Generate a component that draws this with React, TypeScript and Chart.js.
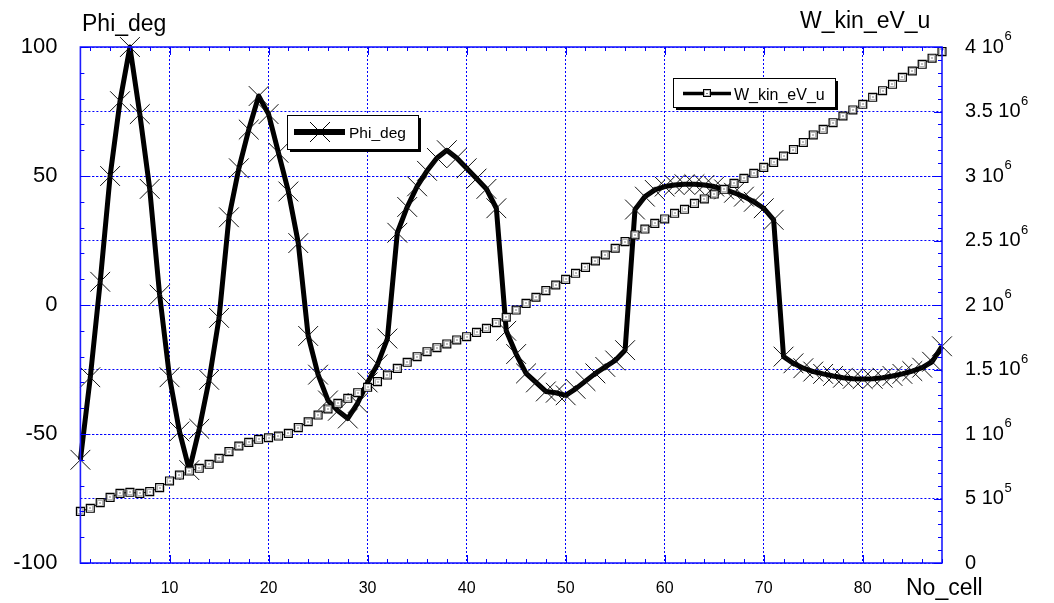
import React, { useEffect, useRef } from "react";
import { Chart, registerables } from "chart.js";

Chart.register(...registerables);

// ---------- data ----------
const NO_CELL = [
  1, 2, 3, 4, 5, 6, 7, 8, 9, 10, 11, 12, 13, 14, 15, 16, 17, 18, 19, 20,
  21, 22, 23, 24, 25, 26, 27, 28, 29, 30, 31, 32, 33, 34, 35, 36, 37, 38, 39, 40,
  41, 42, 43, 44, 45, 46, 47, 48, 49, 50, 51, 52, 53, 54, 55, 56, 57, 58, 59, 60,
  61, 62, 63, 64, 65, 66, 67, 68, 69, 70, 71, 72, 73, 74, 75, 76, 77, 78, 79, 80,
  81, 82, 83, 84, 85, 86, 87, 88,
];

const PHI_DEG = [
  -60, -28, 9, 50, 79, 100, 74, 45, 4, -28,
  -49, -64, -48, -29, -5, 34, 53, 68, 81, 74,
  59, 44, 24, -12, -27, -37, -41, -44, -38, -30,
  -23, -13, 28, 38, 46, 52, 57, 60, 57, 53,
  49, 45, 37.5, -10, -19, -26.5, -30, -33.5, -34, -35,
  -32.5, -29.5, -26.5, -24, -21.5, -17.5, 37, 42, 44.6, 45.9,
  46.5, 46.8, 46.8, 46.5, 45.9, 44.8, 43.5, 42, 40, 37.5,
  33, -20, -22.6, -24.5, -25.8, -26.7, -27.5, -28.2, -28.6, -28.7,
  -28.6, -28.2, -27.5, -26.7, -25.6, -24.3, -22, -16,
];

const W_KIN_EV_U = [
  0.400e6, 0.424e6, 0.468e6, 0.509e6, 0.540e6, 0.548e6, 0.540e6, 0.553e6, 0.584e6, 0.636e6,
  0.682e6, 0.713e6, 0.734e6, 0.765e6, 0.812e6, 0.863e6, 0.907e6, 0.935e6, 0.959e6, 0.971e6,
  0.984e6, 1.005e6, 1.049e6, 1.095e6, 1.147e6, 1.194e6, 1.238e6, 1.277e6, 1.320e6, 1.362e6,
  1.406e6, 1.457e6, 1.509e6, 1.556e6, 1.599e6, 1.638e6, 1.669e6, 1.698e6, 1.729e6, 1.754e6,
  1.788e6, 1.819e6, 1.863e6, 1.905e6, 1.961e6, 2.013e6, 2.060e6, 2.111e6, 2.155e6, 2.199e6,
  2.246e6, 2.292e6, 2.341e6, 2.388e6, 2.440e6, 2.491e6, 2.543e6, 2.589e6, 2.633e6, 2.667e6,
  2.711e6, 2.742e6, 2.788e6, 2.822e6, 2.860e6, 2.897e6, 2.943e6, 2.982e6, 3.021e6, 3.067e6,
  3.106e6, 3.155e6, 3.205e6, 3.260e6, 3.318e6, 3.362e6, 3.413e6, 3.465e6, 3.512e6, 3.556e6,
  3.610e6, 3.661e6, 3.711e6, 3.765e6, 3.814e6, 3.866e6, 3.913e6, 3.964e6,
];

const X_TICKS = [10, 20, 30, 40, 50, 60, 70, 80];
const PHI_TICKS = [-100, -50, 0, 50, 100];
const W_TICKS = [0, 0.5e6, 1e6, 1.5e6, 2e6, 2.5e6, 3e6, 3.5e6, 4e6];

const X_MIN = 1;
const X_MAX = 88;
const PHI_MIN = -100;
const PHI_MAX = 100;
const W_MIN = 0;
const W_MAX = 4e6;

// minor tick spacing on each axis
const X_MINOR = 2;
const PHI_MINOR = 10;
const W_MINOR = 1e5;

const FONT = "'Liberation Sans', Arial, sans-serif";
const BLUE = "#0000ff";

function sciLabel(v: number): [string, string] {
  if (v === 0) return ["0", ""];
  const e = Math.floor(Math.log10(v) + 1e-9);
  const m = +(v / Math.pow(10, e)).toFixed(2);
  return [`${m} 10`, String(e)];
}

function drawBox(ctx: CanvasRenderingContext2D, x: number, y: number, w: number, h: number) {
  ctx.fillStyle = "#000";
  ctx.fillRect(x + 3, y + 3, w, h);
  ctx.fillStyle = "#fff";
  ctx.fillRect(x, y, w, h);
  ctx.strokeStyle = "#000";
  ctx.lineWidth = 1;
  ctx.strokeRect(x + 0.5, y + 0.5, w, h);
}

function drawCross(ctx: CanvasRenderingContext2D, x: number, y: number, h: number) {
  ctx.beginPath();
  ctx.moveTo(x - h, y - h);
  ctx.lineTo(x + h, y + h);
  ctx.moveTo(x + h, y - h);
  ctx.lineTo(x - h, y + h);
  ctx.stroke();
}

const pointDetail = {
  id: "pointDetail",
  afterDatasetsDraw(chart: any) {
    const ctx = chart.ctx as CanvasRenderingContext2D;
    const meta = chart.getDatasetMeta(1);
    ctx.save();
    for (const el of meta.data) {
      const cx = Math.round(el.x);
      const cy = Math.round(el.y);
      ctx.strokeStyle = "#b8b8b8";
      ctx.lineWidth = 1;
      ctx.strokeRect(cx - 2.5, cy - 2.5, 5, 5);
      ctx.fillStyle = "#000";
      ctx.fillRect(cx - 0.5, cy - 0.5, 1, 1);
    }
    ctx.restore();
  },
};

const decor = {
  id: "decor",
  afterDraw(chart: any) {
    const ctx = chart.ctx as CanvasRenderingContext2D;
    const { left, right, top, bottom } = chart.chartArea;
    const xs = chart.scales.x;
    const yl = chart.scales.y;
    const yr = chart.scales.y1;
    ctx.save();

    // frame
    ctx.strokeStyle = "#1c1cff";
    ctx.lineWidth = 1.6;
    ctx.strokeRect(left, top, right - left, bottom - top);

    // inward tick marks
    ctx.strokeStyle = BLUE;
    ctx.lineWidth = 1;
    ctx.beginPath();
    for (let v = X_MINOR; v <= X_MAX; v += X_MINOR) {
      const px = Math.round(xs.getPixelForValue(v)) + 0.5;
      const len = v % 10 === 0 ? 8 : 4;
      ctx.moveTo(px, bottom);
      ctx.lineTo(px, bottom - len);
      ctx.moveTo(px, top);
      ctx.lineTo(px, top + len);
    }
    for (let v = PHI_MIN; v <= PHI_MAX; v += PHI_MINOR) {
      const py = Math.round(yl.getPixelForValue(v)) + 0.5;
      const len = v % 50 === 0 ? 8 : 4;
      ctx.moveTo(left, py);
      ctx.lineTo(left + len, py);
    }
    for (let v = W_MIN; v <= W_MAX + 1; v += W_MINOR) {
      const py = Math.round(yr.getPixelForValue(v)) + 0.5;
      const len = Math.round(v / W_MINOR) % 5 === 0 ? 8 : 4;
      ctx.moveTo(right, py);
      ctx.lineTo(right - len, py);
    }
    ctx.stroke();

    // right axis labels with superscript exponent
    ctx.fillStyle = "#000";
    ctx.textAlign = "left";
    ctx.textBaseline = "middle";
    for (const v of W_TICKS) {
      const py = yr.getPixelForValue(v);
      const px = right + 23;
      const [main, exp] = sciLabel(v);
      ctx.font = `20px ${FONT}`;
      ctx.fillText(main, px, py);
      if (exp) {
        const w = ctx.measureText(main).width;
        ctx.font = `13px ${FONT}`;
        ctx.fillText(exp, px + w + 0.5, py - 10.5);
      }
    }

    // axis titles
    ctx.textBaseline = "alphabetic";
    ctx.font = `23px ${FONT}`;
    ctx.fillText("Phi_deg", 82, 31);
    ctx.fillText("W_kin_eV_u", 800, 28);
    ctx.fillText("No_cell", 906, 595);

    // legend: Phi_deg
    drawBox(ctx, 287, 115, 131, 34);
    ctx.strokeStyle = "#000";
    ctx.lineWidth = 6;
    ctx.beginPath();
    ctx.moveTo(294, 132);
    ctx.lineTo(345, 132);
    ctx.stroke();
    ctx.lineWidth = 1;
    drawCross(ctx, 320, 132, 10);
    ctx.fillStyle = "#000";
    ctx.font = `15.5px ${FONT}`;
    ctx.fillText("Phi_deg", 349, 138);

    // legend: W_kin_eV_u
    drawBox(ctx, 673, 78, 162, 29);
    ctx.strokeStyle = "#000";
    ctx.lineWidth = 3.5;
    ctx.beginPath();
    ctx.moveTo(683, 93.5);
    ctx.lineTo(731, 93.5);
    ctx.stroke();
    ctx.fillStyle = "#fff";
    ctx.fillRect(703, 89.5, 8, 8);
    ctx.lineWidth = 1;
    ctx.strokeStyle = "#000";
    ctx.strokeRect(703.5, 89.5, 7, 7);
    ctx.strokeStyle = "#b8b8b8";
    ctx.strokeRect(704.5, 90.5, 5, 5);
    ctx.fillStyle = "#000";
    ctx.fillRect(706.5, 93, 1, 1);
    ctx.font = `16px ${FONT}`;
    ctx.fillText("W_kin_eV_u", 734, 100);

    ctx.restore();
  },
};

export default function App() {
  const ref = useRef<HTMLCanvasElement | null>(null);

  useEffect(() => {
    document.body.style.margin = "0";
    const canvas = ref.current;
    if (!canvas) return;

    const gridOpts = { color: BLUE, lineWidth: 1, drawTicks: false };
    const borderOpts = { display: false, dash: [2, 2] };

    const chart = new Chart(canvas, {
      type: "line",
      data: {
        datasets: [
          {
            label: "Phi_deg",
            data: NO_CELL.map((n, i) => ({ x: n, y: PHI_DEG[i] })),
            yAxisID: "y",
            order: 2,
            borderColor: "#000",
            borderWidth: 5,
            borderJoinStyle: "round",
            tension: 0,
            pointStyle: "crossRot",
            pointRadius: 14,
            pointBorderWidth: 1,
            pointBorderColor: "#111",
            pointBackgroundColor: "rgba(0,0,0,0)",
            clip: false,
          } as any,
          {
            label: "W_kin_eV_u",
            data: NO_CELL.map((n, i) => ({ x: n, y: W_KIN_EV_U[i] })),
            yAxisID: "y1",
            order: 1,
            borderColor: "#000",
            borderWidth: 1,
            tension: 0,
            pointStyle: "rect",
            pointRadius: 5.6,
            pointBorderWidth: 1.2,
            pointBorderColor: "#000",
            pointBackgroundColor: "#fff",
            clip: false,
          } as any,
        ],
      },
      options: {
        animation: false,
        responsive: false,
        devicePixelRatio: 1,
        layout: { padding: { top: 47, left: 0, right: 0, bottom: 0 } },
        plugins: {
          legend: { display: false },
          tooltip: { enabled: false },
        },
        scales: {
          x: {
            type: "linear",
            position: "bottom",
            min: X_MIN,
            max: X_MAX,
            afterBuildTicks: (s: any) => {
              s.ticks = X_TICKS.map((v) => ({ value: v }));
            },
            afterFit: (s: any) => {
              s.height = 40;
            },
            ticks: {
              color: "#000",
              font: { family: FONT, size: 16 },
              padding: 16,
              maxRotation: 0,
              autoSkip: false,
            },
            grid: gridOpts,
            border: borderOpts,
          },
          y: {
            type: "linear",
            position: "left",
            min: PHI_MIN,
            max: PHI_MAX,
            afterBuildTicks: (s: any) => {
              s.ticks = PHI_TICKS.map((v) => ({ value: v }));
            },
            afterFit: (s: any) => {
              s.width = 80.4;
            },
            ticks: {
              color: "#000",
              font: { family: FONT, size: 22 },
              padding: 23,
            },
            grid: gridOpts,
            border: borderOpts,
          },
          y1: {
            type: "linear",
            position: "right",
            min: W_MIN,
            max: W_MAX,
            afterBuildTicks: (s: any) => {
              s.ticks = W_TICKS.map((v) => ({ value: v }));
            },
            afterFit: (s: any) => {
              s.width = 112;
            },
            ticks: { display: false },
            grid: gridOpts,
            border: borderOpts,
          },
        },
      } as any,
      plugins: [pointDetail, decor],
    });

    return () => chart.destroy();
  }, []);

  return (
    <div style={{ position: "absolute", left: 0, top: 0, width: 1054, height: 603, background: "#fff" }}>
      <canvas ref={ref} width={1054} height={603} style={{ display: "block" }} />
    </div>
  );
}
